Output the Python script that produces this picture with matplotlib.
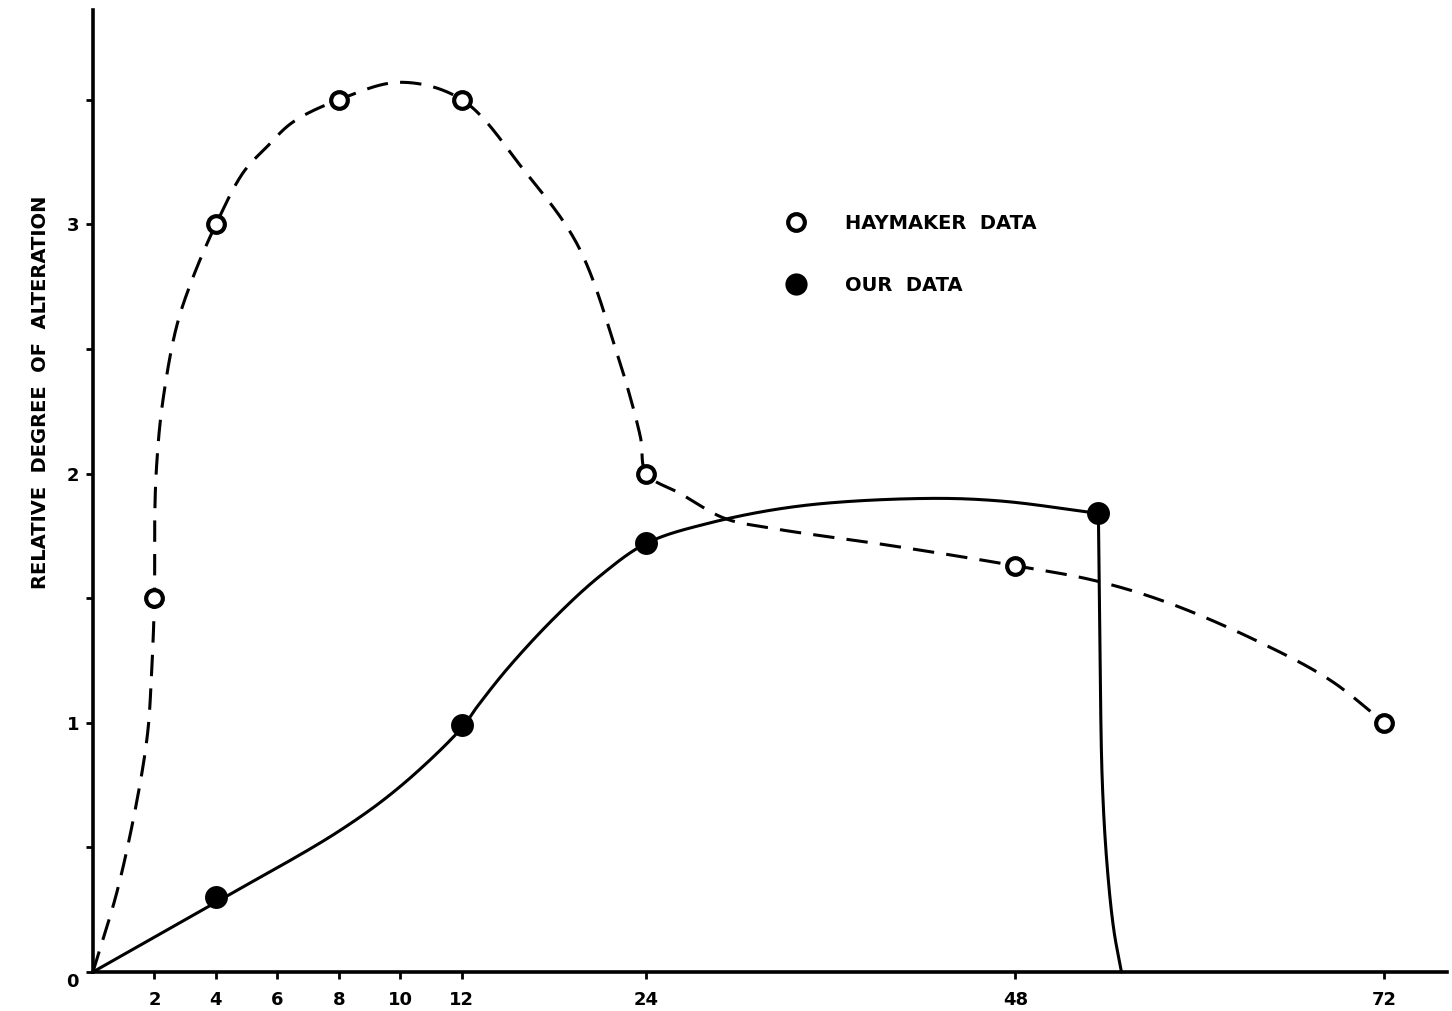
import numpy as np
import matplotlib
matplotlib.use("Agg")
import matplotlib.pyplot as plt
import matplotlib.transforms as mtrans
from matplotlib.lines import Line2D

plt.rcParams['font.family'] = ['DejaVu Sans']
plt.rcParams['font.weight'] = 'bold'

# ---------------- data ----------------
x_tick_hours = [2, 4, 6, 8, 10, 12, 24, 48, 72]
y_major_ticks = [0, 1, 2, 3]
y_minor_ticks = [0.5, 1.5, 2.5, 3.5]

haymaker_hours = [2, 4, 8, 12, 24, 48, 72]
haymaker_values = [1.5, 3.0, 3.5, 3.5, 2.0, 1.63, 1.0]

our_hours = [4, 12, 24, 53.4]
our_values = [0.30, 0.99, 1.72, 1.84]

# hand-drawn curve traces
haymaker_curve_hours = [0, 0.8, 1.45, 1.78, 1.9, 2.0, 2.01, 2.07, 2.25, 2.7, 3.2, 4.0,
                        4.9, 5.65, 6.5, 8.0, 10.0, 12.0, 16.0, 19.5, 22.0, 23.6, 24.0,
                        26.2, 29.1, 32.2, 40.0, 48.0, 53.2, 58.0, 64.0, 68.5, 72.0]
haymaker_curve_values = [0, 0.33, 0.70, 0.96, 1.18, 1.5, 1.83, 2.03, 2.27, 2.58, 2.77, 3.0,
                         3.21, 3.31, 3.41, 3.5, 3.57, 3.5, 3.22, 2.92, 2.5, 2.15, 2.0,
                         1.92, 1.82, 1.78, 1.71, 1.63, 1.57, 1.48, 1.32, 1.17, 1.0]

our_curve_hours = [0, 4, 8, 10, 12, 13, 15, 18, 21, 24, 28, 34, 42, 47, 53.4]
our_curve_values = [0, 0.28, 0.565, 0.745, 0.98, 1.065, 1.22, 1.42, 1.59, 1.72, 1.80,
                    1.87, 1.90, 1.89, 1.84]

our_drop_hours = [53.4, 53.5, 53.65, 53.95, 54.4, 54.9]
our_drop_values = [1.84, 1.30, 0.77, 0.44, 0.17, 0.0]

label_y = 'RELATIVE  DEGREE  OF  ALTERATION'
legend_labels = ['HAYMAKER  DATA', 'OUR  DATA']


# ---------------- axis scale: 0-12 h drawn twice as wide ----------------
def fwd(x):
    x = np.asarray(x, dtype=float)
    return np.where(x <= 12, 2 * x, x + 12)


def inv(p):
    p = np.asarray(p, dtype=float)
    return np.where(p <= 24, p / 2, p - 12)


SX, SY = 15.375, 249.0  # approximate pixels per scaled unit, for smooth curves


def catmull_rom(xs, ys, n=40, alpha=0.5):
    pts = np.column_stack([xs, ys]).astype(float)
    P = np.vstack([2 * pts[0] - pts[1], pts, 2 * pts[-1] - pts[-2]])
    out = []
    for i in range(1, len(P) - 2):
        p0, p1, p2, p3 = P[i - 1], P[i], P[i + 1], P[i + 2]
        t0 = 0.0
        t1 = t0 + max(np.linalg.norm(p1 - p0), 1e-6) ** alpha
        t2 = t1 + max(np.linalg.norm(p2 - p1), 1e-6) ** alpha
        t3 = t2 + max(np.linalg.norm(p3 - p2), 1e-6) ** alpha
        t = np.linspace(t1, t2, n)[:, None]
        A1 = (t1 - t) / (t1 - t0) * p0 + (t - t0) / (t1 - t0) * p1
        A2 = (t2 - t) / (t2 - t1) * p1 + (t - t1) / (t2 - t1) * p2
        A3 = (t3 - t) / (t3 - t2) * p2 + (t - t2) / (t3 - t2) * p3
        B1 = (t2 - t) / (t2 - t0) * A1 + (t - t0) / (t2 - t0) * A2
        B2 = (t3 - t) / (t3 - t1) * A2 + (t - t1) / (t3 - t1) * A3
        C = (t2 - t) / (t2 - t1) * B1 + (t - t1) / (t2 - t1) * B2
        out.append(C if i == len(P) - 3 else C[:-1])
    return np.vstack(out)


def smooth(hours, values):
    C = catmull_rom(fwd(hours) * SX, np.asarray(values, float) * SY)
    return inv(C[:, 0] / SX), C[:, 1] / SY


fig = plt.figure(figsize=(14.52, 10.11), dpi=100)
ax = fig.add_axes([0.064, 0.0386, 0.9325, 0.9515])
ax.set_xscale('function', functions=(fwd, inv))
ax.set_xlim(0, 76.07)
ax.set_ylim(0, 3.86)

for side in ['top', 'right']:
    ax.spines[side].set_visible(False)
for side in ['left', 'bottom']:
    ax.spines[side].set_linewidth(2.6)

# curves
hx, hy = smooth(haymaker_curve_hours, haymaker_curve_values)
ax.plot(hx, hy, color='black', lw=2.2, ls=(0, (7, 4)), zorder=2, clip_on=False)
ox, oy = smooth(our_curve_hours, our_curve_values)
ax.plot(ox, oy, color='black', lw=2.2, zorder=2, clip_on=False, solid_capstyle='round')
dx, dy = smooth(our_drop_hours, our_drop_values)
ax.plot(dx, dy, color='black', lw=2.2, zorder=2, clip_on=False, solid_capstyle='round')

# markers
ax.plot(haymaker_hours, haymaker_values, ls='none', marker='o', ms=12, mew=3,
        mfc='white', mec='black', zorder=4)
ax.plot(our_hours, our_values, ls='none', marker='o', ms=16.5, mew=0,
        mfc='black', zorder=4)

# ticks
ax.set_xticks(x_tick_hours)
ax.set_xticklabels([str(h) for h in x_tick_hours])
ax.set_xticks([], minor=True)
ax.set_yticks(y_major_ticks)
ax.set_yticklabels([str(v) for v in y_major_ticks])
ax.set_yticks(y_minor_ticks, minor=True)
ax.tick_params(axis='both', which='both', direction='out', width=2, length=5,
               color='black')
ax.tick_params(axis='x', labelsize=13, pad=9)
ax.tick_params(axis='y', labelsize=13, pad=5)
lbl0 = ax.get_yticklabels()[0]
lbl0.set_transform(lbl0.get_transform() +
                   mtrans.ScaledTranslation(0, -6 / 72, fig.dpi_scale_trans))

ax.set_ylabel(label_y, fontsize=14, fontweight='bold')
ax.yaxis.set_label_coords(-0.032, 0.603)

handles = [
    Line2D([], [], ls='none', marker='o', ms=12, mew=3, mfc='white', mec='black'),
    Line2D([], [], ls='none', marker='o', ms=16, mew=0, mfc='black'),
]
ax.legend(handles, legend_labels, frameon=False, loc='upper left',
          bbox_to_anchor=(0.512, 0.788), borderpad=0, borderaxespad=0,
          handlelength=1.0, handletextpad=2.0, labelspacing=2.2,
          prop=dict(weight='bold', size=14))

fig.savefig('out.png', dpi=100, facecolor='white')
